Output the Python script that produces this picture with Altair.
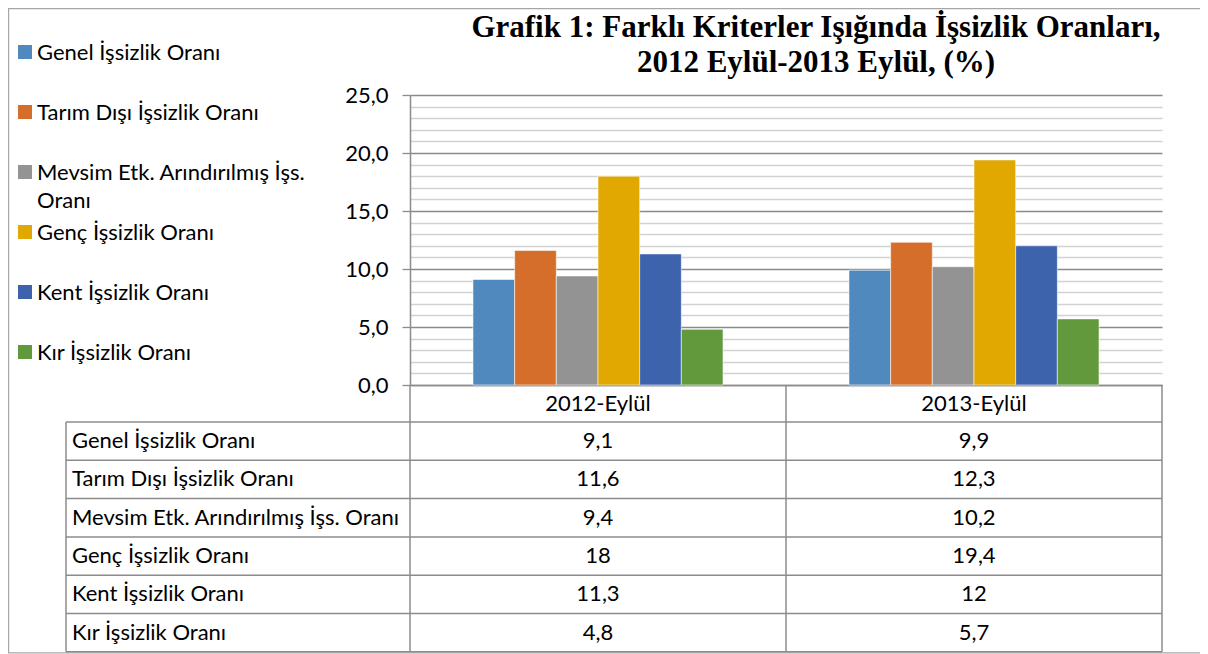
import altair as alt
import pandas as pd

# ---------------- data ----------------
periods = ["2012-Eylül", "2013-Eylül"]
series = [
    "Genel İşsizlik Oranı",
    "Tarım Dışı İşsizlik Oranı",
    "Mevsim Etk. Arındırılmış İşs. Oranı",
    "Genç İşsizlik Oranı",
    "Kent İşsizlik Oranı",
    "Kır İşsizlik Oranı",
]
values_2012 = [9.1, 11.6, 9.4, 18.0, 11.3, 4.8]
values_2013 = [9.9, 12.3, 10.2, 19.4, 12.0, 5.7]
colors = ["#4F89BD", "#D46E2A", "#939393", "#E0A800", "#3C63AC", "#63993D"]
title_lines = [
    "Grafik 1: Farklı Kriterler Işığında İşsizlik Oranları,",
    "2012 Eylül-2013 Eylül, (%)",
]
y_ticks = list(range(0, 26))

# ---------------- layout ----------------
W, H = 752, 290
PAD_L, PAD_T = 402, 87
CANVAS_W, CANVAS_H = 1192, 646
FONT = "Lato"
FS = 22
LINE = "#8c8c8c"
ROW_H = 38.3
HEADER_BOTTOM = H + 37
TABLE_LEFT = -344


def fmt(v):
    return str(int(v)) if float(v).is_integer() else str(v).replace(".", ",")


rows = []
for p, vals in zip(periods, [values_2012, values_2013]):
    for i, (s, v) in enumerate(zip(series, vals)):
        rows.append({"period": p, "series": s, "value": v, "label": fmt(v),
                     "ypix": HEADER_BOTTOM + ROW_H * (i + 0.5)})
df = pd.DataFrame(rows)

names_df = pd.DataFrame({
    "series": series,
    "ypix": [HEADER_BOTTOM + ROW_H * (i + 0.5) for i in range(len(series))],
    "leg_y": [-43 + 60 * i for i in range(len(series))],
    "leg_text": [s.replace("İşs. Oranı", "İşs.\nOranı") for s in series],
})
names_df["leg_base"] = names_df["leg_y"] + 7.5

header_df = pd.DataFrame({"period": periods})

color_scale = alt.Scale(domain=series, range=colors)
x_enc = alt.X("period:N", sort=periods,
              scale=alt.Scale(paddingInner=0.335, paddingOuter=0.1675),
              axis=alt.Axis(labels=False, ticks=False, title=None, domain=True,
                            domainColor=LINE, domainWidth=1.5, grid=False))

bars = alt.Chart(df).mark_bar(stroke="white", strokeWidth=0.8, strokeOpacity=0.7).encode(
    x=x_enc,
    xOffset=alt.XOffset("series:N", sort=series,
                        scale=alt.Scale(paddingInner=0, paddingOuter=0)),
    y=alt.Y("value:Q", scale=alt.Scale(domain=[0, 25], nice=False),
            axis=alt.Axis(
                values=y_ticks, title=None,
                labelExpr="datum.value % 5 === 0 ? replace(format(datum.value, '.1f'), '.', ',') : ''",
                labelFont=FONT, labelFontSize=FS, labelColor="#000000", labelPadding=14,
                tickSize=8, tickWidth=1.3,
                tickColor={"condition": {"test": "datum.value % 5 === 0", "value": LINE},
                           "value": "transparent"},
                domainColor=LINE, domainWidth=1.5,
                grid=True, gridWidth=1.3,
                gridColor={"condition": {"test": "datum.value % 5 === 0", "value": "#8a8a8a"},
                           "value": "#d2d2d2"},
            )),
    color=alt.Color("series:N", scale=color_scale, legend=None),
)

# table lines
seg = []
for k in range(7):
    y = HEADER_BOTTOM + ROW_H * k
    seg.append({"x": TABLE_LEFT, "x2": W, "y": y, "y2": y})
table_bottom = HEADER_BOTTOM + ROW_H * 6
for x, ytop in [(TABLE_LEFT, HEADER_BOTTOM), (0, H), (W / 2, H), (W, H)]:
    seg.append({"x": x, "x2": x, "y": ytop, "y2": table_bottom})
seg_df = pd.DataFrame(seg)
lines = alt.Chart(seg_df).mark_rule(color=LINE, strokeWidth=1.5).encode(
    x=alt.X("x:Q", scale=None, axis=None), x2="x2:Q",
    y=alt.Y("y:Q", scale=None, axis=None), y2="y2:Q",
)

header = alt.Chart(header_df).mark_text(font=FONT, fontSize=FS, color="#000000",
                                        baseline="middle").encode(
    x=alt.X("period:N", sort=periods),
    y=alt.value((H + HEADER_BOTTOM) / 2),
    text="period:N",
)

cells = alt.Chart(df).mark_text(font=FONT, fontSize=FS, color="#000000",
                                baseline="middle").encode(
    x=alt.X("period:N", sort=periods),
    y=alt.Y("ypix:Q", scale=None, axis=None),
    text="label:N",
)

row_names = alt.Chart(names_df).mark_text(font=FONT, fontSize=FS, color="#000000",
                                          baseline="middle", align="left").encode(
    x=alt.value(TABLE_LEFT + 6),
    y=alt.Y("ypix:Q", scale=None, axis=None),
    text="series:N",
)

leg_sq = alt.Chart(names_df).mark_square(size=196, opacity=1, shape="square").encode(
    x=alt.value(-385),
    y=alt.Y("leg_y:Q", scale=None, axis=None),
    color=alt.Color("series:N", scale=color_scale, legend=None),
)
leg_txt = alt.Chart(names_df).mark_text(font=FONT, fontSize=FS, color="#000000",
                                        baseline="alphabetic", align="left",
                                        lineBreak="\n", lineHeight=28).encode(
    x=alt.value(-373),
    y=alt.Y("leg_base:Q", scale=None, axis=None),
    text="leg_text:N",
)

title_df = pd.DataFrame({"t": title_lines, "yb": [-58, -23]})
title = alt.Chart(title_df).mark_text(font="Liberation Serif", fontWeight="bold",
                                      fontSize=31, color="#000000",
                                      baseline="alphabetic", align="center").encode(
    x=alt.value(406),
    y=alt.Y("yb:Q", scale=None, axis=None),
    text="t:N",
)

border = alt.Chart(pd.DataFrame({"a": [0]})).mark_rect(
    fill="transparent", stroke="#a6a6a6", strokeWidth=1.2).encode(
    x=alt.value(-PAD_L + 0.6), x2=alt.value(W + 200),
    y=alt.value(-PAD_T + 0.6), y2=alt.value(table_bottom + 1),
)

chart = alt.layer(border, bars, lines, header, cells, row_names, leg_sq, leg_txt, title).properties(
    width=W, height=H,
    autosize=alt.AutoSizeParams(type="none"),
    padding={"left": PAD_L, "top": PAD_T, "right": CANVAS_W - PAD_L - W,
             "bottom": CANVAS_H - PAD_T - H},
    background="white",
).configure_view(stroke=None)

chart.save("out.html", embed_options={"renderer": "svg", "actions": False})
